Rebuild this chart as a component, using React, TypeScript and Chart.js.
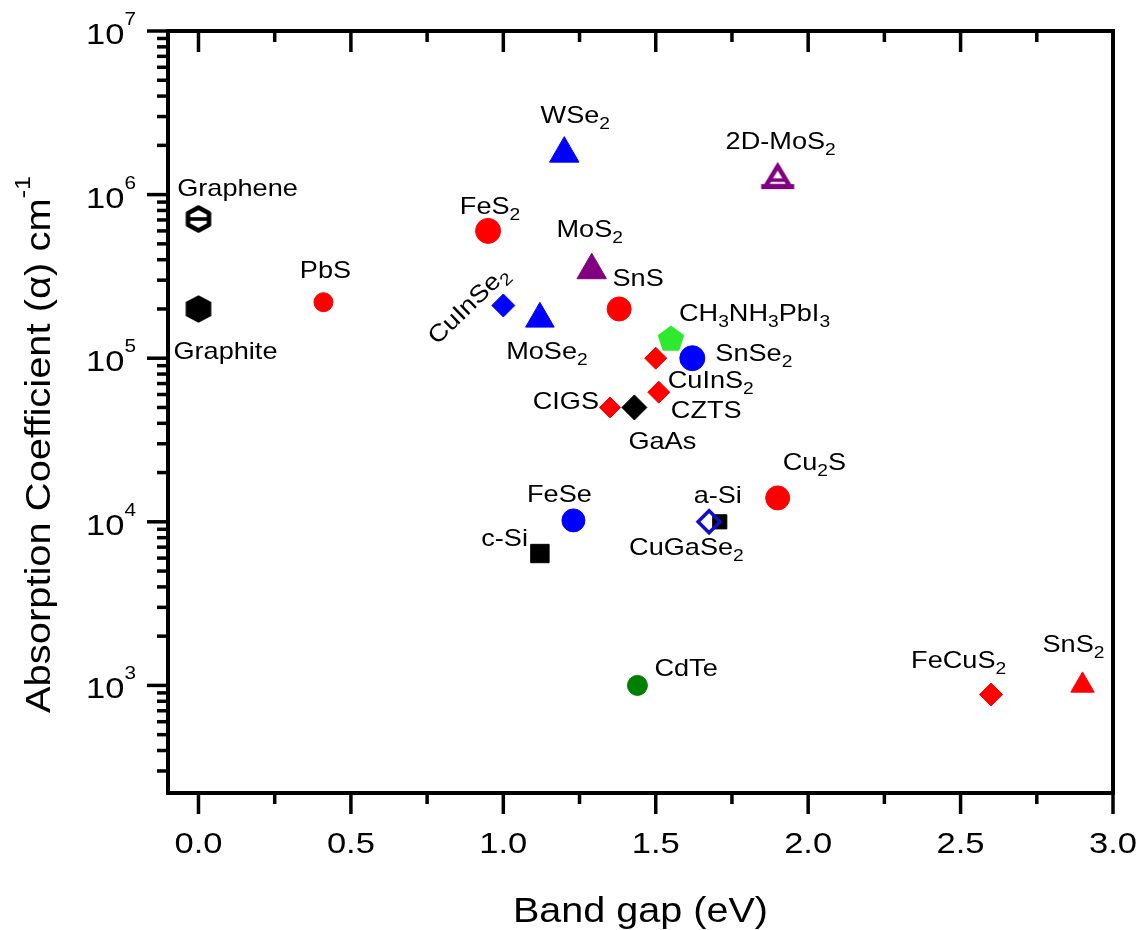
import React, { useEffect, useRef } from 'react';
import { Chart, registerables } from 'chart.js';

Chart.register(...registerables);

// ---------------- data ----------------
const materials = [
  'Graphene', 'Graphite', 'PbS', 'FeS2', 'CuInSe2', 'MoSe2', 'WSe2', 'MoS2', 'SnS', '2D-MoS2',
  'CH3NH3PbI3', 'SnSe2', 'CuInS2', 'CZTS', 'CIGS', 'GaAs', 'FeSe', 'c-Si', 'a-Si', 'CuGaSe2',
  'Cu2S', 'CdTe', 'FeCuS2', 'SnS2',
];
const bandGap = [
  0, 0, 0.41, 0.95, 1.0, 1.12, 1.2, 1.29, 1.38, 1.9,
  1.55, 1.62, 1.5, 1.51, 1.35, 1.43, 1.23, 1.12, 1.71, 1.675,
  1.9, 1.44, 2.6, 2.9,
];
const absorption = [
  7.1e5, 2.0e5, 2.2e5, 6.0e5, 2.1e5, 1.74e5, 1.78e6, 3.45e5, 2.0e5, 1.28e6,
  1.33e5, 1.0e5, 1.0e5, 6.2e4, 5.0e4, 5.0e4, 1.02e4, 6.4e3, 1.0e4, 1.0e4,
  1.4e4, 1.0e3, 8.8e2, 1.0e3,
];
const pointLabels = [
  'Graphene', 'Graphite', 'PbS', 'FeS_{2}', 'CuInSe_{2}', 'MoSe_{2}', 'WSe_{2}', 'MoS_{2}', 'SnS', '2D-MoS_{2}',
  'CH_{3}NH_{3}PbI_{3}', 'SnSe_{2}', 'CuInS_{2}', 'CZTS', 'CIGS', 'GaAs', 'FeSe', 'c-Si', 'a-Si', 'CuGaSe_{2}',
  'Cu_{2}S', 'CdTe', 'FeCuS_{2}', 'SnS_{2}',
];

const xMin = -0.1;
const xMax = 3.0;
const yMin = 220;
const yMax = 1e7;
const xMajorTicks = [0, 0.5, 1.0, 1.5, 2.0, 2.5, 3.0];
const xTickLabels = ['0.0', '0.5', '1.0', '1.5', '2.0', '2.5', '3.0'];
const xMinorTicks = [0.25, 0.75, 1.25, 1.75, 2.25, 2.75];
const yMajorTicks = [1e3, 1e4, 1e5, 1e6, 1e7];
const yTickLabels = ['10^{3}', '10^{4}', '10^{5}', '10^{6}', '10^{7}'];
const yMinorMantissas = [2, 3, 4, 5, 6, 7, 8, 9];
const yMinorDecades = [1e2, 1e3, 1e4, 1e5, 1e6];

const xTitle = 'Band gap (eV)';
const yTitle = 'Absorption Coefficient (\u03B1) cm^{-1}';

// ---------------- styles ----------------
const RED = '#FF0000';
const BLUE = '#0000FF';
const PURPLE = '#800080';
const BLACK = '#000000';
const LIME = '#2EEA2E';
const DGREEN = '#008000';

const markerShape = [
  'hexOpen', 'hexFill', 'circle', 'circle', 'rectRot', 'triangle', 'triangle', 'triangle', 'circle', 'triOpen',
  'pentagon', 'circle', 'rectRot', 'rectRot', 'rectRot', 'rectRot', 'circle', 'rect', 'rect', 'diamondOpen',
  'circle', 'circle', 'rectRot', 'triangle',
];
const markerColor = [
  BLACK, BLACK, RED, RED, BLUE, BLUE, BLUE, PURPLE, RED, PURPLE,
  LIME, BLUE, RED, RED, RED, BLACK, BLUE, BLACK, BLACK, '#1010CC',
  RED, DGREEN, RED, RED,
];
const markerRadius = [
  13, 13, 9.5, 12.5, 11.5, 16.5, 17, 17, 12, 16,
  14, 12.5, 11, 11, 10.5, 12.5, 11.5, 13, 10, 11,
  12, 10, 11.5, 13.5,
];
// label placement
const labelAlign = [
  'center', 'center', 'center', 'center', 'center', 'center', 'center', 'center', 'center', 'center',
  'left', 'left', 'left', 'left', 'right', 'left', 'center', 'right', 'center', 'left',
  'left', 'left', 'left', 'left',
];
const labelDx = [
  39, 27, 2, 2, -30, 7, 11, -2, 19, 3,
  8, 23, 12, 12, -11, -6, -14, -12, -2, -80,
  5, 17, -80, -40,
];
const labelDy = [
  -23, 50, -24, -17, 5, 40, -31, -33, -23, -28,
  -17, 3, 30, 26, 2, 42, -18, -8, -19, 33,
  -28, -9, -27, -33,
];
const labelRot = [
  0, 0, 0, 0, -44, 0, 0, 0, 0, 0,
  0, 0, 0, 0, 0, 0, 0, 0, 0, 0,
  0, 0, 0, 0,
];

const FONT = '"Liberation Sans", Arial, Helvetica, sans-serif';

// ---------------- helpers ----------------
type Seg = { t: string; mode: number };
function parseRich(s: string): Seg[] {
  const segs: Seg[] = [];
  const re = /([_^])\{([^}]*)\}/g;
  let last = 0;
  let m: RegExpExecArray | null;
  while ((m = re.exec(s))) {
    if (m.index > last) segs.push({ t: s.slice(last, m.index), mode: 0 });
    segs.push({ t: m[2], mode: m[1] === '_' ? 1 : 2 });
    last = re.lastIndex;
  }
  if (last < s.length) segs.push({ t: s.slice(last), mode: 0 });
  return segs;
}

type RichOpts = {
  size: number; subSize: number; subDy: number; supDy: number;
  sx: number; align: string; rot?: number; color?: string;
};
function drawRich(ctx: CanvasRenderingContext2D, text: string, x: number, y: number, o: RichOpts) {
  const segs = parseRich(text);
  ctx.save();
  ctx.translate(x, y);
  if (o.rot) ctx.rotate(o.rot);
  ctx.scale(o.sx, 1);
  ctx.textBaseline = 'alphabetic';
  ctx.textAlign = 'left';
  ctx.fillStyle = o.color || '#000';
  let w = 0;
  const widths = segs.map((sg) => {
    ctx.font = `${sg.mode ? o.subSize : o.size}px ${FONT}`;
    const ww = ctx.measureText(sg.t).width;
    w += ww;
    return ww;
  });
  let cx = o.align === 'left' ? 0 : o.align === 'center' ? -w / 2 : -w;
  segs.forEach((sg, i) => {
    ctx.font = `${sg.mode ? o.subSize : o.size}px ${FONT}`;
    const dy = sg.mode === 1 ? o.subDy : sg.mode === 2 ? -o.supDy : 0;
    ctx.fillText(sg.t, cx, dy);
    cx += widths[i];
  });
  ctx.restore();
}

function makeMarker(size: number, draw: (c: CanvasRenderingContext2D, h: number) => void) {
  const cv = document.createElement('canvas');
  cv.width = size;
  cv.height = size;
  const c = cv.getContext('2d') as CanvasRenderingContext2D;
  draw(c, size / 2);
  return cv;
}

function hexPath(c: CanvasRenderingContext2D, cx: number, cy: number, hw: number, hh: number) {
  c.beginPath();
  c.moveTo(cx, cy - hh);
  c.lineTo(cx + hw, cy - hh / 2);
  c.lineTo(cx + hw, cy + hh / 2);
  c.lineTo(cx, cy + hh);
  c.lineTo(cx - hw, cy + hh / 2);
  c.lineTo(cx - hw, cy - hh / 2);
  c.closePath();
}

function buildPointStyle(shape: string, color: string, r: number): any {
  if (shape === 'hexFill') {
    return makeMarker(34, (c, h) => {
      hexPath(c, h, h, 12.8, 13.8);
      c.fillStyle = color;
      c.fill();
    });
  }
  if (shape === 'hexOpen') {
    return makeMarker(34, (c, h) => {
      hexPath(c, h, h, 10.5, 11.5);
      c.fillStyle = '#fff';
      c.fill();
      c.lineWidth = 4.5;
      c.strokeStyle = color;
      c.lineJoin = 'round';
      c.stroke();
      c.beginPath();
      c.moveTo(h - 9, h);
      c.lineTo(h + 9, h);
      c.lineWidth = 3.6;
      c.stroke();
    });
  }
  if (shape === 'pentagon') {
    return makeMarker(34, (c, h) => {
      c.beginPath();
      for (let k = 0; k < 5; k++) {
        const a = -Math.PI / 2 + (k * 2 * Math.PI) / 5;
        const px = h + Math.cos(a) * r;
        const py = h + 1.5 + Math.sin(a) * r;
        if (k === 0) c.moveTo(px, py);
        else c.lineTo(px, py);
      }
      c.closePath();
      c.fillStyle = color;
      c.fill();
    });
  }
  if (shape === 'triOpen') {
    return makeMarker(40, (c, h) => {
      c.strokeStyle = color;
      c.fillStyle = '#fff';
      c.lineJoin = 'miter';
      c.beginPath();
      c.moveTo(h, h - 11);
      c.lineTo(h + 12, h + 9);
      c.lineTo(h - 12, h + 9);
      c.closePath();
      c.fill();
      c.lineWidth = 4.5;
      c.stroke();
      c.beginPath();
      c.moveTo(h - 16.5, h + 9.5);
      c.lineTo(h + 16.5, h + 9.5);
      c.lineWidth = 5;
      c.stroke();
      c.beginPath();
      c.moveTo(h - 8, h + 3);
      c.lineTo(h + 8, h + 3);
      c.lineWidth = 3.5;
      c.stroke();
    });
  }
  if (shape === 'diamondOpen') return 'rectRot';
  return shape;
}

const overlayPlugin = {
  id: 'overlay',
  afterDraw(chart: any) {
    const ctx: CanvasRenderingContext2D = chart.ctx;
    const xs = chart.scales.x;
    const ys = chart.scales.y;
    const area = chart.chartArea;
    ctx.save();
    ctx.strokeStyle = '#000';
    ctx.lineWidth = 3.5;
    ctx.lineCap = 'butt';
    const seg = (x1: number, y1: number, x2: number, y2: number) => {
      ctx.beginPath();
      ctx.moveTo(x1, y1);
      ctx.lineTo(x2, y2);
      ctx.stroke();
    };
    const MAJ = 21;
    const MIN = 11;
    xMajorTicks.forEach((v) => {
      const px = xs.getPixelForValue(v);
      seg(px, area.bottom, px, area.bottom + MAJ);
      seg(px, area.top, px, area.top + MAJ);
    });
    xMinorTicks.forEach((v) => {
      const px = xs.getPixelForValue(v);
      seg(px, area.bottom, px, area.bottom + MIN);
      seg(px, area.top, px, area.top + MIN);
    });
    yMajorTicks.forEach((v) => {
      const py = ys.getPixelForValue(v);
      seg(area.left, py, area.left - MAJ, py);
    });
    yMinorDecades.forEach((d) => {
      yMinorMantissas.forEach((m) => {
        const v = m * d;
        if (v <= yMin || v >= yMax) return;
        const py = ys.getPixelForValue(v);
        seg(area.left, py, area.left - MIN, py);
      });
    });
    // tick labels
    xMajorTicks.forEach((v, i) => {
      const px = xs.getPixelForValue(v);
      drawRich(ctx, xTickLabels[i], px, area.bottom + 60, {
        size: 30, subSize: 18, subDy: 6, supDy: 19, sx: 1.15, align: 'center',
      });
    });
    yMajorTicks.forEach((v, i) => {
      const py = ys.getPixelForValue(v);
      drawRich(ctx, yTickLabels[i], area.left - 32, py + 13, {
        size: 30, subSize: 18, subDy: 6, supDy: 19, sx: 1.15, align: 'right',
      });
    });
    // axis titles
    drawRich(ctx, xTitle, (area.left + area.right) / 2, 922, {
      size: 35, subSize: 22, subDy: 7, supDy: 16, sx: 1.13, align: 'center',
    });
    drawRich(ctx, yTitle, 50, 713, {
      size: 35, subSize: 22, subDy: 7, supDy: 20, sx: 1.14, align: 'left', rot: -Math.PI / 2,
    });
    // point labels
    const meta = chart.getDatasetMeta(0);
    meta.data.forEach((pt: any, i: number) => {
      const p = pt.getProps(['x', 'y'], true);
      drawRich(ctx, pointLabels[i], p.x + labelDx[i], p.y + labelDy[i], {
        size: 24, subSize: 17, subDy: 6, supDy: 10, sx: 1.13, align: labelAlign[i],
        rot: (labelRot[i] * Math.PI) / 180,
      });
    });
    ctx.restore();
  },
};

export default function App() {
  const ref = useRef<HTMLCanvasElement | null>(null);
  useEffect(() => {
    if (!ref.current) return;
    const styles = markerShape.map((s, i) => buildPointStyle(s, markerColor[i], markerRadius[i]));
    const bg = markerShape.map((s, i) => (s === 'diamondOpen' ? 'rgba(0,0,0,0)' : markerColor[i]));
    const bw = markerShape.map((s) => (s === 'diamondOpen' ? 3.5 : 1));
    const data = bandGap.map((x, i) => ({ x, y: absorption[i] }));
    const borderCommon = { display: true, color: '#000', width: 4 };
    const chart = new Chart(ref.current, {
      type: 'scatter',
      data: {
        labels: materials,
        datasets: [
          {
            label: 'Absorption coefficient',
            data,
            pointStyle: styles,
            pointRadius: markerRadius,
            pointHoverRadius: markerRadius,
            backgroundColor: bg,
            borderColor: markerColor,
            borderWidth: bw,
          } as any,
        ],
      },
      options: {
        responsive: false,
        animation: false,
        devicePixelRatio: 1,
        layout: { padding: 0 },
        plugins: { legend: { display: false }, tooltip: { enabled: false } },
        scales: {
          x: {
            type: 'linear', position: 'bottom', min: xMin, max: xMax,
            grid: { display: false, lineWidth: 4 }, ticks: { display: false },
            border: borderCommon,
            afterFit: (s: any) => { s.height = 137; },
          },
          x2: {
            type: 'linear', position: 'top', min: xMin, max: xMax,
            grid: { display: false, lineWidth: 4 }, ticks: { display: false },
            border: borderCommon,
            afterFit: (s: any) => { s.height = 31; },
          },
          y: {
            type: 'logarithmic', position: 'left', min: yMin, max: yMax,
            grid: { display: false, lineWidth: 4 }, ticks: { display: false },
            border: borderCommon,
            afterFit: (s: any) => { s.width = 168; },
          },
          y2: {
            type: 'logarithmic', position: 'right', min: yMin, max: yMax,
            grid: { display: false, lineWidth: 4 }, ticks: { display: false },
            border: borderCommon,
            afterFit: (s: any) => { s.width = 35; },
          },
        } as any,
      },
      plugins: [overlayPlugin],
    });
    return () => chart.destroy();
  }, []);
  return (
    <div style={{ position: 'absolute', left: 0, top: 0, width: 1148, height: 930, background: '#fff' }}>
      <canvas ref={ref} width={1148} height={930} style={{ display: 'block' }} />
    </div>
  );
}
